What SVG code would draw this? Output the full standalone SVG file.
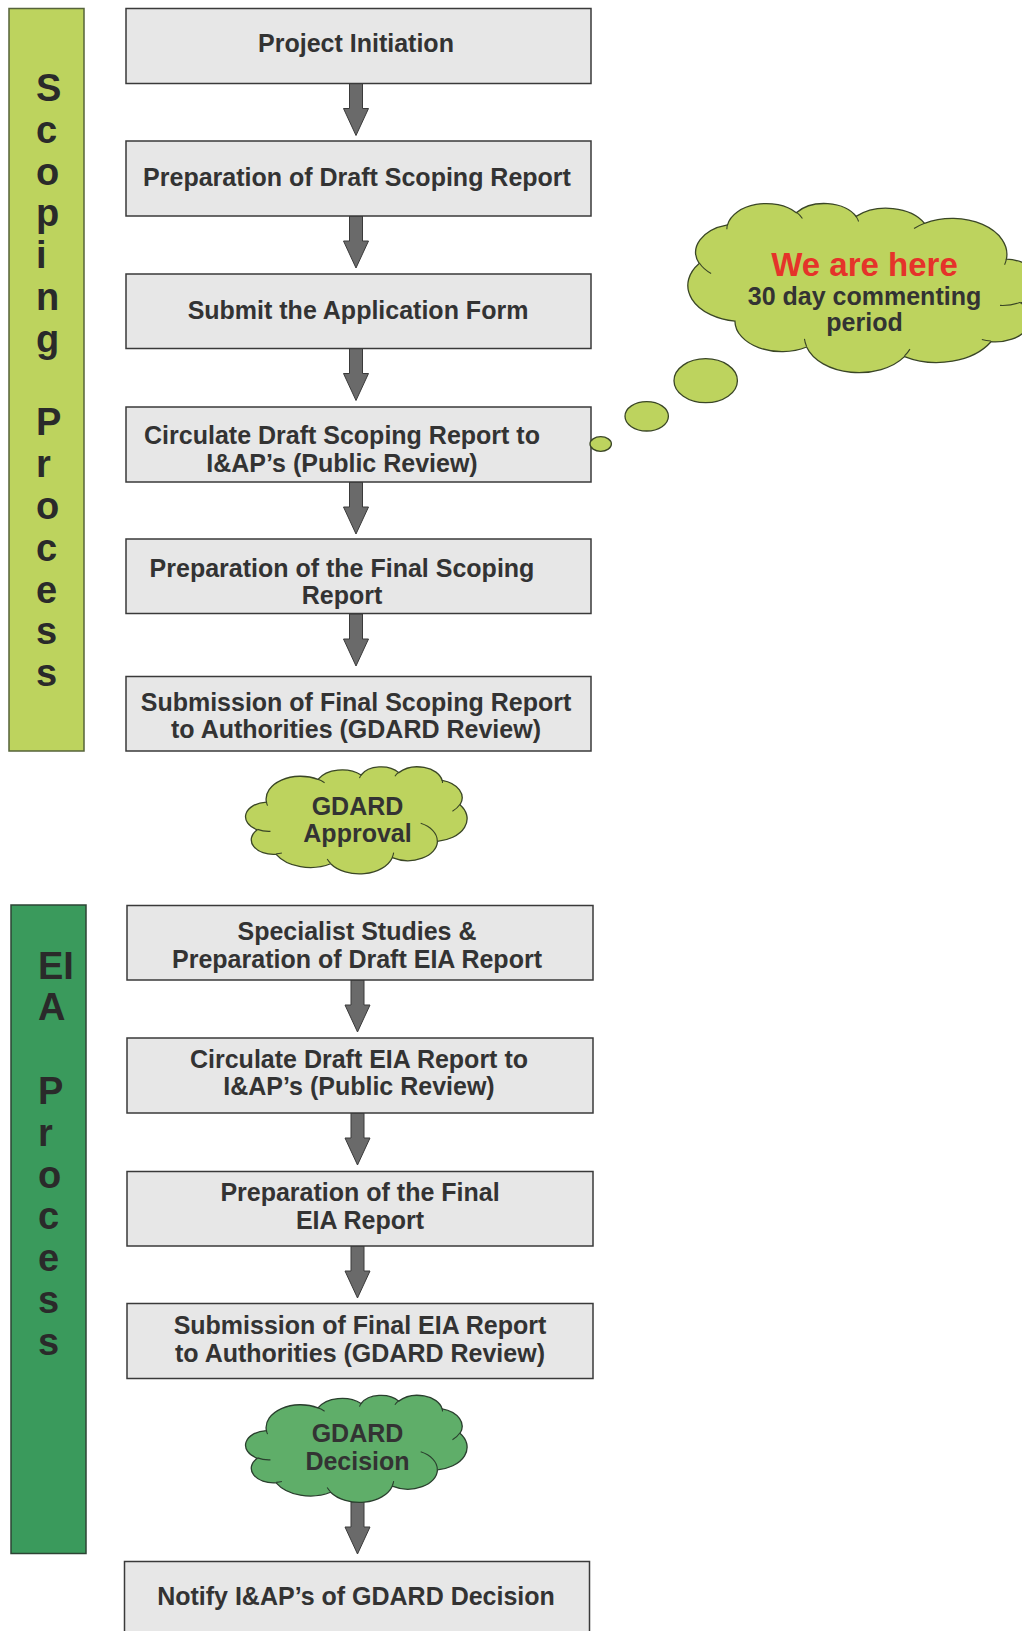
<svg xmlns="http://www.w3.org/2000/svg" xmlns:xlink="http://www.w3.org/1999/xlink" width="1022" height="1631" viewBox="0 0 1022 1631">
<style>
.box{fill:#e7e7e7;stroke:#3a3a3a;stroke-width:1.5}
.t{font-family:"Liberation Sans",Arial,sans-serif;font-weight:bold;font-size:25px;fill:#333333;text-anchor:middle}
.v{font-family:"Liberation Sans",Arial,sans-serif;font-weight:bold;font-size:38px;fill:#2a2a2a}
.arrow{fill:#6a6a6a;stroke:#3a3a3a;stroke-width:1}
.cl{fill:#bdd35e;stroke:#3a4626}
.cd{fill:#5fae69;stroke:#2a3f2e}
.red{fill:#e5332a;font-size:33px}
</style>
<defs>
<path id="cloudOutline" vector-effect="non-scaling-stroke" stroke-width="1.3" d="M 90.3 332.6 A 156.3 212.7 0 0 1 324.2 120.4 A 123.4 168.2 0 0 1 519.8 79.4 A 101.0 137.6 0 0 1 690.6 57.3 A 112.4 152.7 0 0 1 887.0 129.0 A 123.4 168.4 0 0 1 968.0 357.8 A 156.8 213.4 0 0 1 865.9 699.1 A 133.9 182.1 0 0 1 661.1 852.1 A 156.3 213.3 0 0 1 381.5 909.0 A 178.7 244.1 0 0 1 134.4 821.1 A 100.9 137.0 0 0 1 48.9 591.4 A 100.6 137.6 0 0 1 90.3 332.6 Z"/>
<path id="cloudCreases" vector-effect="non-scaling-stroke" stroke-width="1.1" fill="none" d="M 108.6 606.0 A 100.6 137.6 0 0 1 50.0 587.5 M 160.4 807.9 A 100.9 137.0 0 0 1 134.7 816.7 M 381.4 904.9 A 156.3 213.3 0 0 1 365.9 864.5 M 667.3 804.4 A 156.3 213.3 0 0 1 661.1 848.6 M 967.5 355.4 A 123.4 168.4 0 0 1 934.0 417.4 M 887.1 125.6 A 112.4 152.7 0 0 1 888.9 154.9 M 673.1 91.5 A 112.4 152.7 0 0 1 690.3 54.1 M 512.5 109.3 A 101.0 137.6 0 0 1 520.8 77.1 M 324.1 120.2 A 156.3 212.7 0 0 1 354.2 151.4 M 95.5 365.5 A 156.3 212.7 0 0 1 90.3 332.6"/>
<path id="cloudCrease2" vector-effect="non-scaling-stroke" stroke-width="1.1" fill="none" d="M 790.0 531.3 A 133.9 182.1 0 0 1 865.3 696.5"/>
<g id="cloudShape"><use xlink:href="#cloudOutline"/><use xlink:href="#cloudCreases"/><use xlink:href="#cloudCrease2"/></g>
<g id="cloudShapeB"><use xlink:href="#cloudOutline"/><use xlink:href="#cloudCreases"/></g>
<path id="arr" d="M -6.5 0 H 6.5 V 25 H 12.5 L 0 52 L -12.5 25 H -6.5 Z"/>
</defs>

<g id="scoping-bar">
<rect x="9" y="8.5" width="75" height="742.5" fill="#bdd35e" stroke="#56633a" stroke-width="1.5"/>
<text class="v" x="36"><tspan x="36" y="101">S</tspan><tspan x="36" y="142.8">c</tspan><tspan x="36" y="184.6">o</tspan><tspan x="36" y="226.4">p</tspan><tspan x="36" y="268.2">i</tspan><tspan x="36" y="310">n</tspan><tspan x="36" y="351.8">g</tspan><tspan x="36" y="435.4">P</tspan><tspan x="36" y="477.2">r</tspan><tspan x="36" y="519">o</tspan><tspan x="36" y="560.8">c</tspan><tspan x="36" y="602.6">e</tspan><tspan x="36" y="644.4">s</tspan><tspan x="36" y="686.2">s</tspan></text>
</g>

<g id="eia-bar">
<rect x="11" y="905" width="75" height="648.5" fill="#3a9a5c" stroke="#2c4434" stroke-width="1.5"/>
<text class="v" x="38"><tspan x="38" y="978.6">EI</tspan><tspan x="38" y="1020.4">A</tspan><tspan x="38" y="1104">P</tspan><tspan x="38" y="1145.8">r</tspan><tspan x="38" y="1187.6">o</tspan><tspan x="38" y="1229.4">c</tspan><tspan x="38" y="1271.2">e</tspan><tspan x="38" y="1313">s</tspan><tspan x="38" y="1354.8">s</tspan></text>
</g>

<g id="connectors">
<use xlink:href="#arr" class="arrow" transform="translate(356 83.5)"/>
<use xlink:href="#arr" class="arrow" transform="translate(356 216)"/>
<use xlink:href="#arr" class="arrow" transform="translate(356 348.5)"/>
<use xlink:href="#arr" class="arrow" transform="translate(356 482)"/>
<use xlink:href="#arr" class="arrow" transform="translate(356 614)"/>
<use xlink:href="#arr" class="arrow" transform="translate(357.5 980)"/>
<use xlink:href="#arr" class="arrow" transform="translate(357.5 1113)"/>
<use xlink:href="#arr" class="arrow" transform="translate(357.5 1246)"/>
<use xlink:href="#arr" class="arrow" transform="translate(357.5 1502)"/>
</g>

<g id="n1"><rect class="box" x="126" y="8.5" width="465" height="75"/><text class="t" x="356" y="52">Project Initiation</text></g>
<g id="n2"><rect class="box" x="126" y="141" width="465" height="75"/><text class="t" x="357" y="186">Preparation of Draft Scoping Report</text></g>
<g id="n3"><rect class="box" x="126" y="274" width="465" height="74.5"/><text class="t" x="358" y="318.5">Submit the Application Form</text></g>
<g id="n4"><rect class="box" x="126" y="407" width="465" height="75"/><text class="t" x="342" y="444">Circulate Draft Scoping Report to</text><text class="t" x="342" y="472">I&amp;AP’s (Public Review)</text></g>
<g id="n5"><rect class="box" x="126" y="539" width="465" height="74.5"/><text class="t" x="342" y="576.5">Preparation of the Final Scoping</text><text class="t" x="342" y="604">Report</text></g>
<g id="n6"><rect class="box" x="126" y="676.5" width="465" height="74.5"/><text class="t" x="356" y="710.5">Submission of Final Scoping Report</text><text class="t" x="356" y="738">to Authorities (GDARD Review)</text></g>

<g id="c-approval"><use xlink:href="#cloudShape" class="cl" transform="translate(246.5 766.5) scale(0.2205 0.107)"/><text class="t" x="357.5" y="815">GDARD</text><text class="t" x="357.5" y="842">Approval</text></g>

<g id="n7"><rect class="box" x="127" y="905.5" width="466" height="74.5"/><text class="t" x="357" y="940">Specialist Studies &amp;</text><text class="t" x="357" y="968">Preparation of Draft EIA Report</text></g>
<g id="n8"><rect class="box" x="127" y="1038" width="466" height="75"/><text class="t" x="359" y="1067.5">Circulate Draft EIA Report to</text><text class="t" x="359" y="1095">I&amp;AP’s (Public Review)</text></g>
<g id="n9"><rect class="box" x="127" y="1171.5" width="466" height="74.5"/><text class="t" x="360" y="1201">Preparation of the Final</text><text class="t" x="360" y="1229">EIA Report</text></g>
<g id="n10"><rect class="box" x="127" y="1303.5" width="466" height="75"/><text class="t" x="360" y="1333.5">Submission of Final EIA Report</text><text class="t" x="360" y="1361.5">to Authorities (GDARD Review)</text></g>

<g id="c-decision"><use xlink:href="#cloudShape" class="cd" transform="translate(246.5 1395) scale(0.2205 0.107)"/><text class="t" x="357.5" y="1442">GDARD</text><text class="t" x="357.5" y="1470">Decision</text></g>

<g id="n11"><rect class="box" x="124.5" y="1561.5" width="465" height="80"/><text class="t" x="356" y="1605">Notify I&amp;AP’s of GDARD Decision</text></g>

<g id="c-here">
<ellipse class="cl" stroke-width="1.3" cx="600.7" cy="444" rx="10.7" ry="7.3"/>
<ellipse class="cl" stroke-width="1.3" cx="646.7" cy="416.3" rx="21.7" ry="14.7"/>
<ellipse class="cl" stroke-width="1.3" cx="705.7" cy="380.7" rx="31.7" ry="22"/>
<use xlink:href="#cloudShapeB" class="cl" transform="translate(1038 203) scale(-0.35 0.169)"/>
<text class="t red" x="864.5" y="276">We are here</text>
<text class="t" x="864.5" y="305">30 day commenting</text>
<text class="t" x="864.5" y="331">period</text>
</g>
</svg>
